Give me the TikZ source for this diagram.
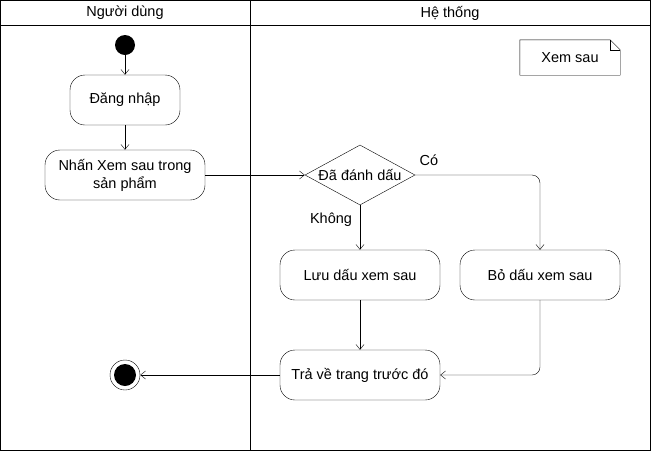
\documentclass[tikz,border=0pt]{standalone}
\usepackage{fontspec}
\setmainfont{Liberation Sans}
\usetikzlibrary{arrows.meta,positioning,shapes.geometric}
\tikzset{
  act/.style={draw, rounded corners=15pt, minimum width=110pt, minimum height=50pt,
    align=center, inner sep=2pt},
  wideact/.style={act, minimum width=160pt},
  flow/.style={draw, -{Straight Barb[length=5pt,width=8pt]}},
  lab/.style={inner sep=1pt}
}
\begin{document}
\begin{tikzpicture}[x=1pt, y=-1pt, font=\fontsize{14.5pt}{18pt}\selectfont]
\useasboundingbox (0,0) rectangle (651,451);
% swimlanes
\draw (0.5,0.5) rectangle (650.5,450.5);
\draw (0.5,25.5) -- (650.5,25.5);
\draw (250.5,0.5) -- (250.5,450.5);
\node (lane1) at (125,13) {Người dùng};
\node (lane2) at (450,13) {Hệ thống};
% note
\node (note) [minimum width=100pt, minimum height=35pt] at (570,57.5) {Xem sau};
\draw (note.north west) -- ([xshift=-10pt]note.north east) -- ([yshift=-10pt]note.north east)
  -- (note.south east) -- (note.south west) -- cycle;
\draw ([xshift=-10pt]note.north east) -- ([xshift=-10pt,yshift=-10pt]note.north east)
  -- ([yshift=-10pt]note.north east);
% nodes
\node (start) [circle, fill=black, minimum size=20pt, inner sep=0pt] at (125,45) {};
\node (login) [act] at (125,100) {Đăng nhập};
\node (click) [wideact] at (125,175) {Nhấn Xem sau trong\\sản phẩm};
\node (check) [draw, diamond, aspect=1.833, minimum width=110pt, minimum height=60pt,
  inner sep=0pt] at (360,175) {};
\node at (check) {Đã đánh dấu};
\node (save) [wideact] at (360,275) {Lưu dấu xem sau};
\node (drop) [wideact] at (540,275) {Bỏ dấu xem sau};
\node (back) [wideact] at (360,375) {Trả về trang trước đó};
\node (stop) [circle, draw, minimum size=30pt, inner sep=0pt] at (125,375) {};
\node [circle, fill=black, minimum size=22pt, inner sep=0pt] at (stop) {};
% connectors
\draw [flow] (start) -- (login);
\draw [flow] (login) -- (click);
\draw [flow] (click) -- (check);
\draw [flow, rounded corners=8pt] (check.east) -| (drop.north);
\draw [flow] (check.south) -- (save.north);
\draw [flow] (save) -- (back);
\draw [flow, rounded corners=8pt] (drop.south) |- (back.east);
\draw [flow] (back) -- (stop);
% labels
\node [lab] at (429,160) {Có};
\node [lab] at (331,220) {Không};
\end{tikzpicture}
\end{document}
